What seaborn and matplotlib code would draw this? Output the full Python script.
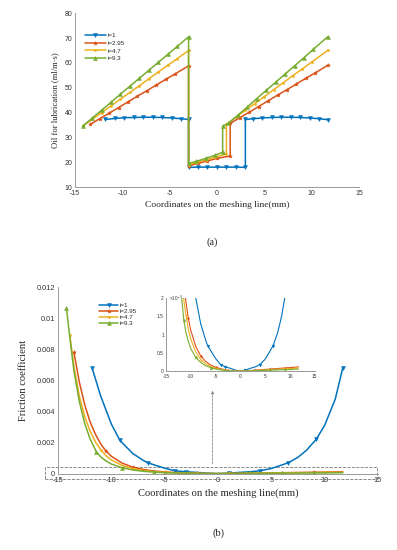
import numpy as np
import pandas as pd
import matplotlib
matplotlib.use('Agg')
import matplotlib.pyplot as plt
from matplotlib.patches import Rectangle
import seaborn as sns

# (a) oil for lubrication (ml/m.s) along the meshing line
a_x_1 = [-11.8, -10.8, -9.8, -8.8, -7.8, -6.8, -5.8, -4.8, -3.8, -3.0, -3.0, -2.0, -1.0, 0.0,
         1.0, 2.0, 3.0, 3.0, 3.8, 4.8, 5.8, 6.8, 7.8, 8.8, 9.8, 10.8, 11.7]
a_y_1 = [37.2, 37.6, 37.9, 38.0, 38.1, 38.1, 38.0, 37.8, 37.5, 37.2, 17.9, 18.0, 18.0, 18.0,
         18.0, 18.0, 17.9, 37.2, 37.5, 37.8, 38.0, 38.1, 38.1, 38.0, 37.8, 37.5, 37.1]

a_x_295 = [-13.4, -12.4, -11.4, -10.4, -9.4, -8.4, -7.4, -6.4, -5.4, -4.4, -3.0, -3.0, -2.0, -1.0,
           0.0, 1.4, 1.4, 2.4, 3.4, 4.4, 5.4, 6.4, 7.4, 8.4, 9.4, 10.4, 11.7]
a_y_295 = [35.2, 37.5, 39.7, 42.0, 44.3, 46.6, 48.8, 51.1, 53.4, 55.6, 58.8, 18.5, 19.5, 20.5,
           21.5, 22.5, 35.6, 37.9, 40.1, 42.4, 44.7, 47.0, 49.2, 51.5, 53.8, 56.0, 59.0]

a_x_47 = [-14.2, -13.2, -12.2, -11.2, -10.2, -9.2, -8.2, -7.2, -6.2, -5.2, -4.2, -3.0, -3.0, -2.2,
          -1.2, -0.2, 1.0, 1.0, 2.0, 3.0, 4.0, 5.0, 6.0, 7.0, 8.0, 9.0, 10.0, 11.7]
a_y_47 = [34.5, 37.2, 39.9, 42.7, 45.4, 48.1, 50.8, 53.6, 56.3, 59.0, 61.7, 65.0, 19.0, 19.8,
          20.9, 22.0, 23.3, 35.3, 38.1, 40.9, 43.6, 46.4, 49.2, 52.0, 54.8, 57.5, 60.3, 65.0]

a_x_93 = [-14.2, -13.2, -12.2, -11.2, -10.2, -9.2, -8.2, -7.2, -6.2, -5.2, -4.2, -3.0, -3.0, -2.2,
          -1.2, -0.2, 0.6, 0.6, 1.2, 2.2, 3.2, 4.2, 5.2, 6.2, 7.2, 8.2, 9.2, 10.2, 11.7]
a_y_93 = [34.5, 37.7, 40.9, 44.1, 47.4, 50.6, 53.8, 57.0, 60.2, 63.4, 66.6, 70.5, 19.5, 20.3,
          21.5, 22.8, 24.0, 34.5, 35.6, 38.9, 42.2, 45.6, 48.9, 52.2, 55.5, 58.8, 62.1, 65.5, 70.5]

# (b) friction coefficient, values in units of 1e-3
b_x_1 = [-11.8, -11, -10, -9.2, -8, -7, -6.6, -5, -4, -3, -2, -1, 0, 1, 2, 3, 3.9, 5, 6.6,
         7.5, 8.3, 9.2, 10, 11, 11.7]
b_y_1 = [6.8, 5.0, 3.2, 2.15, 1.3, 0.85, 0.7, 0.35, 0.18, 0.12, 0.08, 0.03, 0.0, 0.03, 0.08,
         0.12, 0.18, 0.33, 0.7, 1.05, 1.5, 2.2, 3.1, 4.8, 6.8]
b_mk_1 = [-11.8, -9.2, -6.6, -4, -3, 1, 3.9, 6.6, 9.2, 11.7]

b_x_295 = [-13.5, -13, -12.5, -12, -11.5, -11, -10.5, -10, -9, -8, -7, -6, -5, -4, -3, -2, -1,
           0, 1, 2, 3, 4, 5, 6, 7, 8, 9, 10, 11, 11.7]
b_y_295 = [7.8, 5.9, 4.45, 3.35, 2.55, 1.92, 1.45, 1.12, 0.68, 0.42, 0.27, 0.17, 0.11, 0.07,
           0.04, 0.02, 0.01, 0.0, 0.01, 0.02, 0.03, 0.04, 0.05, 0.06, 0.07, 0.08, 0.09, 0.10,
           0.11, 0.12]
b_mk_295 = [-13.5, -10.5, -8, -5, -2, 1, 3, 6, 9]

b_x_47 = [-13.9, -13.5, -13, -12.5, -12, -11.5, -11, -10.5, -10, -9, -8, -7, -6, -5, -4, -3, -2,
          -1, 0, 1, 2, 3, 4, 5, 6, 7, 8, 9, 10, 11, 11.7]
b_y_47 = [8.95, 6.9, 5.0, 3.7, 2.75, 2.05, 1.55, 1.15, 0.88, 0.53, 0.32, 0.2, 0.13, 0.08, 0.05,
          0.03, 0.015, 0.005, 0.0, 0.01, 0.015, 0.02, 0.03, 0.035, 0.045, 0.05, 0.06, 0.065,
          0.075, 0.08, 0.09]
b_mk_47 = [-13.9, -11, -8, -5, -2, 1, 4, 7, 10]

b_x_93 = [-14.2, -14, -13.5, -13, -12.5, -12, -11.4, -11, -10.5, -10, -9, -8, -7, -6, -5, -4,
          -3, -2, -1, 0, 1, 2, 3, 4, 5, 6, 7, 8, 9, 10, 11, 11.7]
b_y_93 = [10.65, 9.4, 6.6, 4.65, 3.25, 2.25, 1.4, 1.08, 0.82, 0.62, 0.38, 0.24, 0.15, 0.1, 0.06,
          0.04, 0.02, 0.01, 0.005, 0.0, 0.005, 0.01, 0.015, 0.02, 0.025, 0.03, 0.035, 0.04,
          0.045, 0.05, 0.055, 0.06]
b_mk_93 = [-14.2, -11.4, -9, -6, -3, 0, 3, 6, 9]

labels = ['i=1', 'i=2.95', 'i=4.7', 'i=9.3']
colors = ['#0072BD', '#D95319', '#EDB120', '#77AC30']
markers = ['v', '*', '.', '^']

a_series = [(a_x_1, a_y_1), (a_x_295, a_y_295), (a_x_47, a_y_47), (a_x_93, a_y_93)]
b_series = [(b_x_1, b_y_1, b_mk_1), (b_x_295, b_y_295, b_mk_295),
            (b_x_47, b_y_47, b_mk_47), (b_x_93, b_y_93, b_mk_93)]

sns.set_style('white')
plt.rcParams['font.family'] = ['Liberation Sans', 'DejaVu Sans']
plt.rcParams['axes.unicode_minus'] = False

SERIF = ['Liberation Serif', 'DejaVu Serif']
GRAY = '#9a9a9a'


def style_axes(ax, size):
    for s in ['top', 'right']:
        ax.spines[s].set_visible(False)
    for s in ['left', 'bottom']:
        ax.spines[s].set_color(GRAY)
        ax.spines[s].set_linewidth(0.7)
    ax.tick_params(direction='in', length=2, width=0.5, color=GRAY,
                   labelsize=size, pad=2, labelcolor='#333333')


fig = plt.figure(figsize=(3.97, 5.5), dpi=100)

# ---- (a)
ax1 = fig.add_axes([0.189, 0.66, 0.715, 0.316])
for (x, y), lab, c, m in zip(a_series, labels, colors, markers):
    sns.lineplot(x=x, y=y, ax=ax1, sort=False, estimator=None, color=c, lw=1.1,
                 marker=m, ms=2.8 if m != '.' else 3.2, mec=c, mfc=c, mew=0.4, label=lab)
ax1.set_xlim(-15, 15)
ax1.set_ylim(10, 80)
ax1.set_xticks(range(-15, 16, 5))
ax1.set_yticks(range(10, 81, 10))
style_axes(ax1, 5)
ax1.set_xlabel('Coordinates on the meshing line(mm)', family=SERIF, fontsize=6.8, labelpad=3)
ax1.set_ylabel('Oil for lubrication (ml/m\u00b7s)', family=SERIF, fontsize=6.2, labelpad=4)
ax1.legend(loc='upper left', bbox_to_anchor=(0.025, 0.9), frameon=False, fontsize=4.5,
           handlelength=3.4, handletextpad=0.3, labelspacing=0.35, borderaxespad=0)
fig.text(212 / 397, 1 - 242 / 550, '(a)', family=SERIF, fontsize=7.5, ha='center', va='center')

# ---- (b)
ax2 = fig.add_axes([0.146, 0.138, 0.806, 0.34])
for (x, y, mk), lab, c, m in zip(b_series, labels, colors, markers):
    idx = [x.index(v) for v in mk]
    sns.lineplot(x=x, y=np.array(y) * 1e-3, ax=ax2, sort=False, estimator=None, color=c,
                 lw=1.1, marker=m, markevery=idx, ms=2.8 if m != '.' else 3.2,
                 mec=c, mfc=c, mew=0.4, label=lab)
ax2.set_xlim(-15, 15)
ax2.set_ylim(-0.00003, 0.012)
ax2.set_xticks(range(-15, 16, 5))
ax2.set_yticks([0, 0.002, 0.004, 0.006, 0.008, 0.01, 0.012])
ax2.set_yticklabels(['0', '0.002', '0.004', '0.006', '0.008', '0.01', '0.012'])
style_axes(ax2, 5.3)
ax2.set_xlabel('Coordinates on the meshing line(mm)', family=SERIF, fontsize=7.6, labelpad=3)
ax2.set_ylabel('Friction coefficient', family=SERIF, fontsize=7.6, labelpad=6)
ax2.legend(loc='upper left', bbox_to_anchor=(0.122, 0.93), frameon=False, fontsize=4.5,
           handlelength=3.0, handletextpad=0.3, labelspacing=0.12, borderaxespad=0)

ax2.add_patch(Rectangle((-16.2, -0.00032), 31.1, 0.00072, fill=False, ls='--', lw=0.6,
                        ec='#777777', clip_on=False))
ax2.annotate('', xy=(-0.5, 0.0055), xytext=(-0.5, 0.00045),
             arrowprops=dict(arrowstyle='-|>', ls='--', lw=0.5, color='#777777',
                             mutation_scale=4))
fig.text(219 / 397, 1 - 533 / 550, '(b)', family=SERIF, fontsize=7.5, ha='center', va='center')

# ---- inset (zoom near zero)
ax3 = fig.add_axes([0.418, 0.325, 0.375, 0.133])
for (x, y, mk), c, m in zip(b_series, colors, markers):
    idx = [x.index(v) for v in mk]
    sns.lineplot(x=x, y=y, ax=ax3, sort=False, estimator=None, color=c, lw=0.8,
                 marker=m, markevery=idx, ms=2.0, mec=c, mfc=c, mew=0.3, legend=False)
ax3.set_xlim(-15, 15)
ax3.set_ylim(0, 2)
ax3.set_xticks(range(-15, 16, 5))
ax3.set_yticks([0, 0.5, 1, 1.5, 2])
ax3.set_yticklabels(['0', '0.5', '1', '1.5', '2'])
style_axes(ax3, 3.5)
ax3.tick_params(length=1.5, pad=1)
ax3.tick_params(axis='x', pad=2)
ax3.tick_params(axis='y', pad=1.5)
ax3.text(0.02, 1.0, '\u00d710$^{-3}$', transform=ax3.transAxes, fontsize=3.3,
         color='#333333', va='center', ha='left')

fig.savefig('out.png', dpi=100)
